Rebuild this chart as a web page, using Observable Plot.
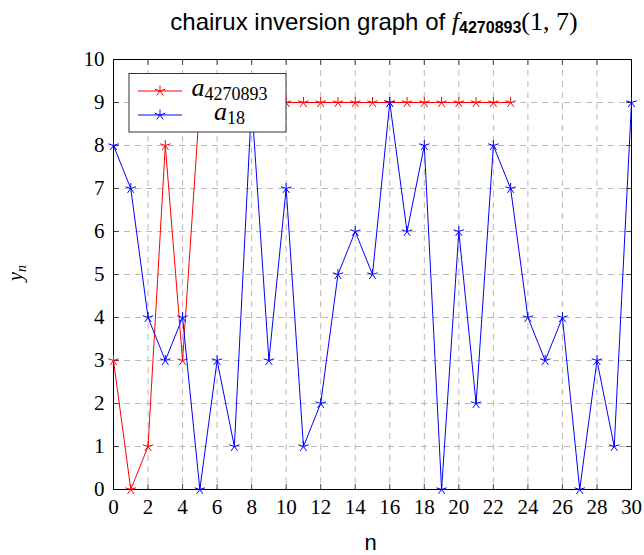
<!DOCTYPE html>
<html>
<head>
<meta charset="utf-8">
<script src="https://cdn.jsdelivr.net/npm/d3@7"></script>
<script src="https://cdn.jsdelivr.net/npm/@observablehq/plot@0.6"></script>
<style>
  html, body { margin: 0; padding: 0; background: white; }
  #wrap { position: relative; width: 644px; height: 555px; overflow: hidden; }
  #plot { position: absolute; left: 0; top: 40px; }
  #overlay { position: absolute; left: 0; top: 0; pointer-events: none; }
</style>
</head>
<body>
<div id="wrap">
  <div id="plot"></div>
  <svg id="overlay" width="644" height="555">
    <text x="374" y="30" text-anchor="middle" fill="#000"><tspan font-family="'Liberation Sans', sans-serif" font-size="24">chairux inversion graph of </tspan><tspan font-family="'Liberation Serif', serif" font-style="italic" font-size="26">f</tspan><tspan font-family="'Liberation Sans', sans-serif" font-weight="bold" font-size="16" dy="3">4270893</tspan><tspan font-family="'Liberation Serif', serif" font-size="26" dy="-3">(1, 7)</tspan></text>
    <text transform="translate(22,273) rotate(-90)" text-anchor="middle" fill="#000" font-family="'Liberation Serif', serif"><tspan font-style="italic" font-size="20">y</tspan><tspan font-style="italic" font-size="14" dy="4">n</tspan></text>
    <g id="legend" transform="translate(129,73.5)"></g>
  </svg>
</div>
<script>
// ---- data ----
const seriesNames = ["4270893", "18"];
const redValues = [3, 0, 1, 8, 3, 9, 9, 9, 9, 9, 9, 9, 9, 9, 9, 9, 9, 9, 9, 9, 9, 9, 9, 9];
const blueValues = [8, 7, 4, 3, 4, 0, 3, 1, 9, 3, 7, 1, 2, 5, 6, 5, 9, 6, 8, 0, 6, 2, 8, 7, 4, 3, 4, 0, 3, 1, 9];
const xTicks = [0, 2, 4, 6, 8, 10, 12, 14, 16, 18, 20, 22, 24, 26, 28, 30];
const yTicks = [0, 1, 2, 3, 4, 5, 6, 7, 8, 9, 10];
const colors = ["#ff0000", "#0000ff"];

const redData = redValues.map((v, i) => ({n: i, y: v}));
const blueData = blueValues.map((v, i) => ({n: i, y: v}));

// pgfplots-like "star" mark: 5 spokes
const starMark = {
  draw(ctx, size) {
    const r = Math.sqrt(size / Math.PI);
    for (let i = 0; i < 5; i++) {
      const a = -Math.PI / 2 + i * 2 * Math.PI / 5;
      ctx.moveTo(0, 0);
      ctx.lineTo(r * Math.cos(a), r * Math.sin(a));
    }
  }
};
const tickShape = { draw(ctx, l) { ctx.moveTo(0, 0); ctx.lineTo(0, -l); } };

const gridStyle = {stroke: "#b8b8b8", strokeOpacity: 1, strokeWidth: 1, strokeDasharray: "6,5"};
const tickStyle = {length: 5, anchor: "start", shape: tickShape, stroke: "#444", strokeWidth: 1};
const fontSerif = "'Liberation Serif', serif";

const chart = Plot.plot({
  width: 644,
  height: 515,
  marginLeft: 113,
  marginRight: 13,
  marginTop: 19,
  marginBottom: 66,
  x: {domain: [0, 30]},
  y: {domain: [0, 10]},
  style: {background: "white", overflow: "visible"},
  marks: [
    Plot.gridX(xTicks, gridStyle),
    Plot.gridY(yTicks, gridStyle),
    Plot.vector(xTicks, {x: d => d, frameAnchor: "bottom", rotate: 0, ...tickStyle}),
    Plot.vector(xTicks, {x: d => d, frameAnchor: "top", rotate: 180, ...tickStyle}),
    Plot.vector(yTicks, {y: d => d, frameAnchor: "left", rotate: 90, ...tickStyle}),
    Plot.vector(yTicks, {y: d => d, frameAnchor: "right", rotate: -90, ...tickStyle}),
    Plot.frame({stroke: "#000", strokeWidth: 1}),
    Plot.axisX(xTicks, {tickSize: 0, tickPadding: 10, fontSize: 21, fontFamily: fontSerif, fill: "#000", label: null}),
    Plot.axisY(yTicks, {tickSize: 0, tickPadding: 9, fontSize: 21, fontFamily: fontSerif, fill: "#000", label: null}),
    Plot.text(["n"], {frameAnchor: "bottom", lineAnchor: "bottom", dy: 60, dx: -2, fontSize: 22, fontFamily: "'Liberation Sans', sans-serif", fill: "#000"}),
    Plot.line(redData, {x: "n", y: "y", stroke: colors[0], strokeWidth: 1}),
    Plot.dot(redData, {x: "n", y: "y", symbol: starMark, r: 5.5, stroke: colors[0], fill: "none", strokeWidth: 1}),
    Plot.line(blueData, {x: "n", y: "y", stroke: colors[1], strokeWidth: 1}),
    Plot.dot(blueData, {x: "n", y: "y", symbol: starMark, r: 5.5, stroke: colors[1], fill: "none", strokeWidth: 1})
  ]
});
document.getElementById("plot").appendChild(chart);

// ---- legend ----
const ns = "http://www.w3.org/2000/svg";
const legend = document.getElementById("legend");
function el(name, attrs, parent) {
  const e = document.createElementNS(ns, name);
  for (const k in attrs) e.setAttribute(k, attrs[k]);
  parent.appendChild(e);
  return e;
}
el("rect", {x: 0, y: 0, width: 157, height: 58.5, fill: "white", stroke: "#333", "stroke-width": 1}, legend);
seriesNames.forEach((sub, i) => {
  const c = colors[i];
  const ly = 17.5 + i * 24;
  el("path", {d: `M9,${ly}H53`, stroke: c, "stroke-width": 1, fill: "none"}, legend);
  const spokes = [0, 72, 144, 216, 288].map(deg => {
    const a = (deg - 90) * Math.PI / 180;
    return `M31,${ly}L${(31 + 5.5 * Math.cos(a)).toFixed(2)},${(ly + 5.5 * Math.sin(a)).toFixed(2)}`;
  }).join("");
  el("path", {d: spokes, stroke: c, "stroke-width": 1, fill: "none"}, legend);
  const t = el("text", {x: 100.5, y: ly + 4.5, "text-anchor": "middle", fill: "#000", "font-family": fontSerif}, legend);
  const a = el("tspan", {"font-style": "italic", "font-size": 26}, t);
  a.textContent = "a";
  const s = el("tspan", {"font-size": 18, dy: 4}, t);
  s.textContent = sub;
});
</script>
</body>
</html>
